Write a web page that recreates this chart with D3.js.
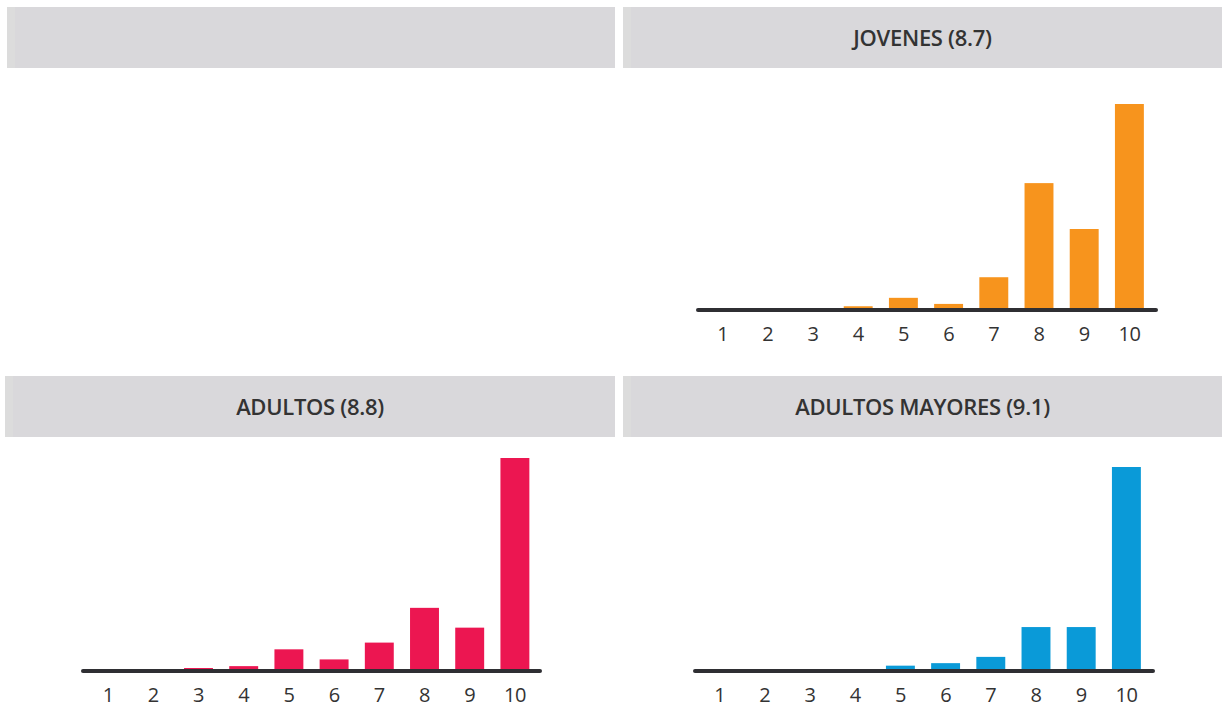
<!DOCTYPE html>
<html>
<head>
<meta charset="utf-8">
<script src="https://cdn.jsdelivr.net/npm/d3@7"></script>
<style>
  html, body { margin: 0; padding: 0; background: #ffffff; }
  svg { display: block; }
</style>
</head>
<body>
<script>
// ---- Data ----
const categories = [1, 2, 3, 4, 5, 6, 7, 8, 9, 10];
const panelTitles = ["", "JOVENES (8.7)", "ADULTOS (8.8)", "ADULTOS MAYORES (9.1)"];
const jovenesValues = [0, 0, 0, 0.8, 2.6, 1.3, 7.0, 27.1, 17.3, 44.0];
const adultosValues = [0, 0, 0.8, 1.3, 5.8, 3.1, 7.6, 16.9, 11.6, 57.0];
const mayoresValues = [0, 0, 0, 0, 1.7, 2.5, 4.5, 14.0, 14.0, 65.0];
const seriesColors = ["#f7941d", "#ec1651", "#0a9ad8"];

// ---- Layout ----
const W = 1222, H = 708;
const svg = d3.select("body").append("svg").attr("width", W).attr("height", H);

const headers = [
  { x: 7, y: 7, w: 608, h: 61, title: panelTitles[0] },
  { x: 623, y: 7, w: 599, h: 61, title: panelTitles[1] },
  { x: 5, y: 376, w: 610, h: 61, title: panelTitles[2] },
  { x: 623, y: 376, w: 599, h: 61, title: panelTitles[3] }
];

const hg = svg.append("g");
headers.forEach(h => {
  hg.append("rect").attr("x", h.x).attr("y", h.y).attr("width", h.w).attr("height", h.h)
    .attr("fill", "#d9d8db");
  hg.append("rect").attr("x", h.x).attr("y", h.y).attr("width", 8).attr("height", h.h)
    .attr("fill", "#dcdcdc");
  if (h.title) {
    hg.append("text").attr("x", h.x + h.w / 2).attr("y", h.y + h.h / 2 - 1)
      .attr("text-anchor", "middle").attr("dominant-baseline", "central")
      .attr("font-family", "'Open Sans', sans-serif").attr("font-weight", 600)
      .attr("font-size", 22).attr("fill", "#333333")
      .attr("letter-spacing", -0.3)
      .text(h.title);
  }
});

const charts = [
  { values: jovenesValues, color: seriesColors[0], x0: 700, x1: 1152, base: 310, hMax: 206, ax0: 698, ax1: 1156 },
  { values: adultosValues, color: seriesColors[1], x0: 85.5, x1: 537.5, base: 671, hMax: 213, ax0: 83, ax1: 540 },
  { values: mayoresValues, color: seriesColors[2], x0: 697, x1: 1149, base: 671, hMax: 204, ax0: 695, ax1: 1153 }
];

charts.forEach(c => {
  const g = svg.append("g");
  const x = d3.scaleBand().domain(categories).range([c.x0, c.x1]).paddingInner(0.36).paddingOuter(0.18);
  const y = d3.scaleLinear().domain([0, d3.max(c.values)]).range([c.base, c.base - c.hMax]);
  const data = categories.map((k, i) => ({ k, v: c.values[i] }));

  g.selectAll("rect.bar").data(data).join("rect").attr("class", "bar")
    .attr("x", d => x(d.k)).attr("width", x.bandwidth())
    .attr("y", d => y(d.v)).attr("height", d => y(0) - y(d.v))
    .attr("fill", c.color);

  // baseline axis
  g.append("line").attr("x1", c.ax0).attr("x2", c.ax1).attr("y1", c.base).attr("y2", c.base)
    .attr("stroke", "#2f2f33").attr("stroke-width", 4).attr("stroke-linecap", "round");

  const axis = d3.axisBottom(x).tickSize(0).tickPadding(0);
  const ag = g.append("g").attr("transform", `translate(0,${c.base + 23})`).call(axis);
  ag.select(".domain").remove();
  ag.selectAll("text")
    .attr("dy", null).attr("y", 0)
    .attr("dominant-baseline", "central")
    .attr("font-family", "'Open Sans', sans-serif")
    .attr("font-size", 20).attr("fill", "#333333")
    .attr("letter-spacing", -0.5);
});
</script>
</body>
</html>
